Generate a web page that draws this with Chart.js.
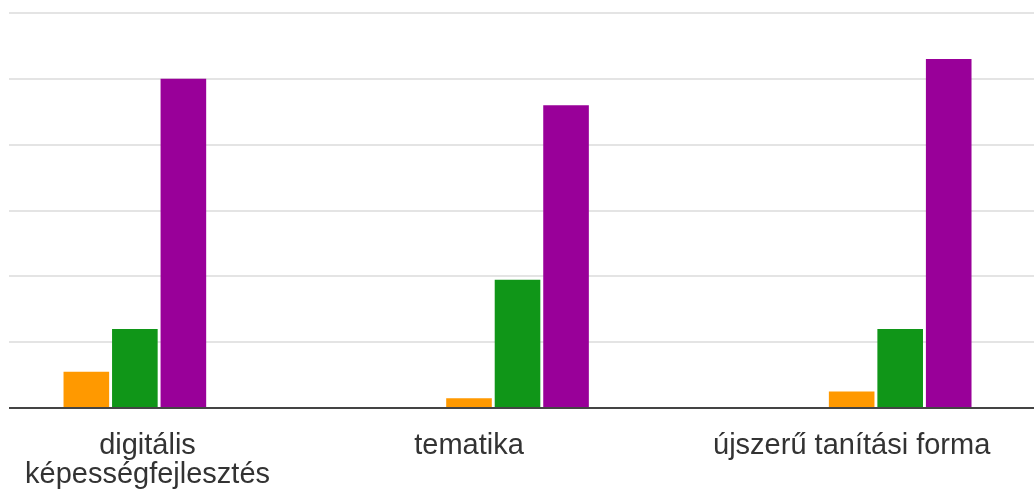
<!DOCTYPE html>
<html>
<head>
<meta charset="utf-8">
<script src="https://cdn.jsdelivr.net/npm/chart.js@4"></script>
<style>
  html, body { margin: 0; padding: 0; background: #fff; }
  #frame { position: relative; width: 1034px; height: 496px; overflow: hidden; background: #fff; }
  #box { position: absolute; left: -105px; top: 0; width: 1148px; height: 496px; }
  #mask { position: absolute; left: 0; top: 0; width: 9px; height: 412px; background: #fff; }
</style>
</head>
<body>
<div id="frame">
  <div id="box"><canvas id="chart"></canvas></div>
  <div id="mask"></div>
</div>
<script>
// categories and answer counts per rating (1..5)
const categories = [['digitális', 'képességfejlesztés'], 'tematika', 'újszerű tanítási forma'];
const seriesNames = ['1', '2', '3', '4', '5'];
const rating1 = [0, 0, 0];
const rating2 = [0, 0, 0];
const rating3 = [11, 3, 5];
const rating4 = [24, 39, 24];
const rating5 = [100, 92, 106];
const yTicks = [0, 20, 40, 60, 80, 100, 120];

const colors = ['#3366cc', '#dc3912', '#ff9900', '#109618', '#990099'];
const values = [rating1, rating2, rating3, rating4, rating5];

// draws category labels, pushed inside the visible frame when they would be cut off
const labelPlugin = {
    id: 'catLabels',
    afterDraw(chart) {
        const ctx = chart.ctx;
        const x = chart.scales.x;
        const visLeft = 105 + 25;
        ctx.save();
        ctx.font = '29px "Liberation Sans", Arial, sans-serif';
        ctx.fillStyle = '#333';
        ctx.textAlign = 'center';
        ctx.textBaseline = 'alphabetic';
        chart.data.labels.forEach((lab, i) => {
            const lines = Array.isArray(lab) ? lab : [lab];
            const w = Math.max(...lines.map(l => ctx.measureText(l).width));
            let cx = x.getPixelForValue(i);
            if (cx - w / 2 < visLeft) cx = visLeft + w / 2;
            lines.forEach((l, j) => ctx.fillText(l, cx, 454 + j * 29));
        });
        ctx.restore();
    }
};

new Chart(document.getElementById('chart'), {
    type: 'bar',
    data: {
        labels: categories,
        datasets: seriesNames.map((name, i) => ({
            label: name,
            data: values[i],
            backgroundColor: colors[i],
            borderWidth: 0,
            categoryPercentage: 0.634,
            barPercentage: 0.94
        }))
    },
    options: {
        responsive: true,
        maintainAspectRatio: false,
        animation: false,
        layout: { padding: { top: 13, bottom: 80, left: 0, right: 0 } },
        plugins: {
            legend: { display: false },
            tooltip: { enabled: false }
        },
        scales: {
            x: {
                z: 1,
                grid: { display: false },
                ticks: { display: false },
                border: { display: true, color: '#444', width: 2 }
            },
            y: {
                min: yTicks[0],
                max: yTicks[yTicks.length - 1],
                afterBuildTicks: (scale) => { scale.ticks = yTicks.map(v => ({ value: v })); },
                ticks: { display: false },
                grid: { color: '#e4e4e4', lineWidth: 2, drawTicks: false },
                border: { display: false }
            }
        }
    },
    plugins: [labelPlugin]
});
</script>
</body>
</html>
